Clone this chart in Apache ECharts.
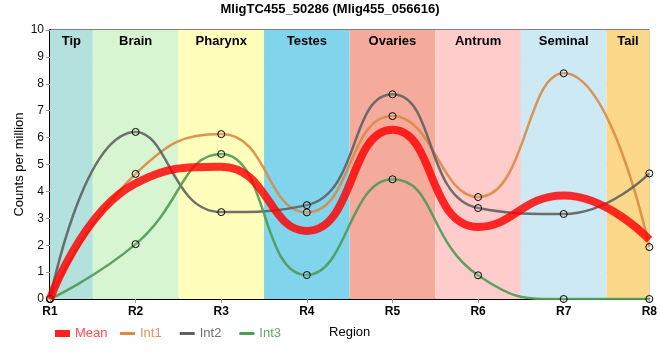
<!DOCTYPE html>
<html><head><meta charset="utf-8">
<script src="https://cdn.jsdelivr.net/npm/echarts@6/dist/echarts.min.js"></script>
<style>html,body{margin:0;padding:0;background:#fff}#c{width:660px;height:360px}</style>
</head><body><div id="c"></div>
<script>
const categories = ['R1','R2','R3','R4','R5','R6','R7','R8'];
const regions = ['Tip','Brain','Pharynx','Testes','Ovaries','Antrum','Seminal','Tail'];
const mean = [0, 4.30, 4.92, 2.53, 6.29, 2.68, 3.85, 2.20];
const int1 = [0, 4.65, 6.13, 3.22, 6.80, 3.79, 8.39, 1.93];
const int2 = [0, 6.21, 3.23, 3.49, 7.61, 3.38, 3.16, 4.67];
const int3 = [0, 2.04, 5.39, 0.89, 4.45, 0.88, 0, 0];
const yTicks = [0,1,2,3,4,5,6,7,8,9,10];

const regionColors = ['#b3e1dd','#d6f5d0','#ffffbb','#80d4ec','#f5ab9c','#ffcccc','#cdeaf4','#fcd98a'];
const FONT = 'Liberation Sans, Arial, sans-serif';
const last = categories.length - 1;

function lineSeries(name, values, color, width, opacity, symbols, z) {
  return {
    name, type: 'line', z, smooth: true,
    data: values.map((v, i) => [i, v]),
    symbol: symbols ? 'circle' : 'none', symbolSize: 7, showSymbol: symbols,
    lineStyle: { color, width, opacity },
    itemStyle: { color: 'rgba(255,255,255,0.1)', borderColor: '#000', borderWidth: 1 },
    emphasis: { disabled: true }
  };
}

const bandData = regions.map((r, i) => [
  { name: r, xAxis: Math.max(0, i - 0.5), itemStyle: { color: regionColors[i] } },
  { xAxis: Math.min(last, i + 0.5) }
]);

const legendItem = (name, color, textColor) => ({ name, icon: 'rect',
  itemStyle: { color, borderWidth: 0, borderColor: 'transparent' }, textStyle: { color: textColor } });

const chart = echarts.init(document.getElementById('c'), null, { renderer: 'canvas' });
chart.setOption({
  animation: false,
  backgroundColor: '#fff',
  textStyle: { fontFamily: FONT },
  title: { text: 'MligTC455_50286 (Mlig455_056616)', left: 'center', top: -2,
    textStyle: { fontSize: 13, fontWeight: 'bold', color: '#000', fontFamily: FONT } },
  grid: { left: 50, right: 10, top: 30, bottom: 61, show: true, borderColor: '#000', borderWidth: 1, backgroundColor: 'transparent' },
  legend: [
    { data: [legendItem('Mean', '#ff2222', '#ff4a4a')],
      left: 50, top: 322, itemWidth: 15, itemHeight: 7, itemGap: 18,
      itemStyle: { borderWidth: 0 },
      textStyle: { fontSize: 13, fontFamily: FONT } },
    { data: [
        legendItem('Int1', '#dd8844', '#e39457'),
        legendItem('Int2', '#606060', '#6f6f7a'),
        legendItem('Int3', '#4f9a55', '#5fa869')],
      left: 115, top: 322, itemWidth: 15, itemHeight: 3, itemGap: 18,
      itemStyle: { borderWidth: 0 },
      textStyle: { fontSize: 13, fontFamily: FONT } }
  ],
  xAxis: {
    type: 'value', min: 0, max: last, interval: 1,
    name: 'Region', nameLocation: 'middle', nameGap: 27, nameMoveOverlap: false,
    nameTextStyle: { fontSize: 13, color: '#000', fontFamily: FONT },
    axisLine: { show: true, onZero: false, lineStyle: { color: '#000', width: 2 } },
    axisTick: { show: true, length: 4, lineStyle: { color: '#999' } },
    axisLabel: { formatter: v => categories[v] || '', fontSize: 12, fontWeight: 'bold', color: '#000', margin: 7, fontFamily: FONT },
    splitLine: { show: true, lineStyle: { color: '#c8c8c8', width: 1 } }
  },
  yAxis: {
    type: 'value', min: yTicks[0], max: yTicks[yTicks.length - 1], interval: 1,
    name: 'Counts per million', nameLocation: 'middle', nameGap: 24, nameMoveOverlap: false,
    nameTextStyle: { fontSize: 13, color: '#000', fontFamily: FONT },
    axisLine: { show: true, lineStyle: { color: '#000', width: 2 } },
    axisTick: { show: true, length: 4, lineStyle: { color: '#999' } },
    axisLabel: { fontSize: 12, color: '#111', margin: 6, fontFamily: FONT },
    splitLine: { show: true, lineStyle: { color: '#c8c8c8', width: 1 } }
  },
  series: [
    { name: 'bands', type: 'line', z: -1, data: [[0, null]], symbol: 'none', silent: true,
      lineStyle: { opacity: 0 },
      markArea: { silent: true, data: bandData,
        label: { show: true, position: 'insideTop', distance: 5, color: '#000', fontSize: 13, fontWeight: 'bold', fontFamily: FONT } } },
    lineSeries('Int1', int1, '#dd8844', 2.5, 0.9, true, 3),
    lineSeries('Int2', int2, '#606060', 2.5, 0.9, true, 3),
    lineSeries('Int3', int3, '#4f9a55', 2.5, 0.9, true, 3),
    lineSeries('Mean', mean, '#ff0000', 8, 0.82, false, 4)
  ]
});
</script></body></html>
